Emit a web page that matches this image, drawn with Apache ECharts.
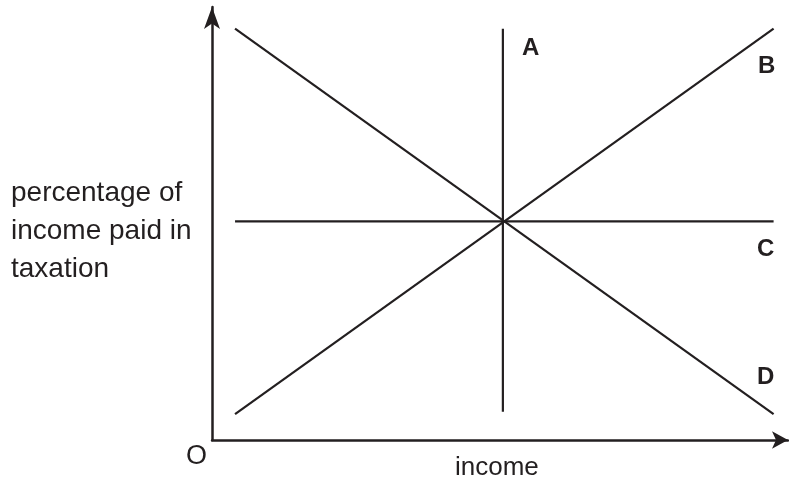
<!DOCTYPE html>
<html lang="en">
<head>
    <meta charset="UTF-8">
    <title>Income and taxation</title>
    <script src="https://cdn.jsdelivr.net/npm/echarts@6/dist/echarts.min.js"></script>
    <style>
        html, body { margin: 0; padding: 0; background: #fff; }
    </style>
</head>
<body>
    <div id="main" style="width: 789px;height: 487px;"></div>
    <script>
        // each line is two points: [income, percentage]
        var lineA = [[50.5, 6.5], [50.5, 95]];
        var lineB = [[4, 6], [97.5, 95]];
        var lineC = [[4, 50.5], [97.5, 50.5]];
        var lineD = [[4, 95], [97.5, 6]];
        var lineNames = ['A', 'B', 'C', 'D'];
        var xTitle = 'income';
        var yTitle = ['percentage of', 'income paid in', 'taxation'];
        var originLabel = 'O';

        var ink = '#231f20';
        var font = '"Liberation Sans", Arial, sans-serif';

        function mkLine(name, data) {
            return {
                name: name,
                type: 'line',
                data: data,
                symbol: 'none',
                silent: true,
                lineStyle: { color: ink, width: 2.2 }
            };
        }

        var myChart = echarts.init(document.getElementById('main'));
        var option = {
            animation: false,
            grid: { left: 212, right: 1, top: 7, bottom: 47, containLabel: false },
            xAxis: {
                type: 'value', min: 0, max: 100,
                axisLine: { show: true, symbol: ['none', 'arrow'], symbolSize: [13, 16], lineStyle: { color: ink, width: 2.5 } },
                axisTick: { show: false }, axisLabel: { show: false }, splitLine: { show: false }
            },
            yAxis: {
                type: 'value', min: 0, max: 100,
                axisLine: { show: true, symbol: ['none', 'arrow'], symbolSize: [12, 22], lineStyle: { color: ink, width: 2.5 } },
                axisTick: { show: false }, axisLabel: { show: false }, splitLine: { show: false }
            },
            series: [
                mkLine('A', lineA),
                mkLine('B', lineB),
                mkLine('C', lineC),
                mkLine('D', lineD)
            ],
            graphic: [
                { type: 'text', left: 522, top: 36, style: { text: lineNames[0], font: 'bold 24px ' + font, fill: ink } },
                { type: 'text', left: 758, top: 54, style: { text: lineNames[1], font: 'bold 24px ' + font, fill: ink } },
                { type: 'text', left: 757, top: 237, style: { text: lineNames[2], font: 'bold 24px ' + font, fill: ink } },
                { type: 'text', left: 757, top: 365, style: { text: lineNames[3], font: 'bold 24px ' + font, fill: ink } },
                { type: 'text', left: 186, top: 443, style: { text: originLabel, font: '27px ' + font, fill: ink } },
                { type: 'text', left: 455, top: 455, style: { text: xTitle, font: '26px ' + font, fill: ink } },
                { type: 'text', left: 11, top: 174, style: { text: yTitle.join('\n'), font: '28px ' + font, fill: ink, lineHeight: 38 } }
            ]
        };
        myChart.setOption(option);
    </script>
</body>
</html>
